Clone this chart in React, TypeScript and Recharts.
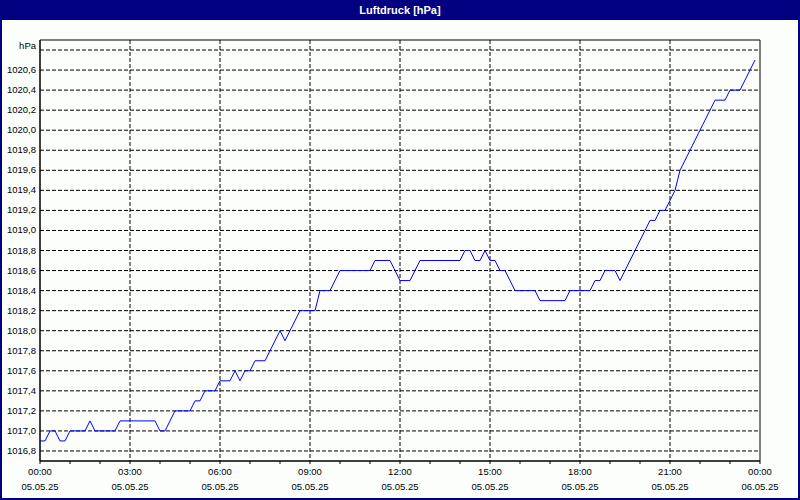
import React from 'react';
import { LineChart, Line, XAxis, YAxis, CartesianGrid, ReferenceArea } from 'recharts';

// minutes since 05.05.25 00:00
const minutes = [
  0, 10, 20, 30, 40, 50, 60, 90, 100, 110, 150, 160, 230, 240, 250, 270, 300, 310, 320, 330,
  350, 360, 380, 390, 400, 410, 420, 430, 450, 480, 490, 520, 550, 560, 580, 600, 660, 670,
  700, 720, 740, 760, 840, 850, 860, 870, 880, 890, 900, 910, 920, 930, 950, 990, 1000, 1050,
  1060, 1100, 1110, 1120, 1130, 1150, 1160, 1220, 1230, 1240, 1250, 1270, 1280, 1350, 1370,
  1380, 1400, 1430,
];
const pressure = [
  1016.9, 1016.9, 1017.0, 1017.0, 1016.9, 1016.9, 1017.0, 1017.0, 1017.1, 1017.0, 1017.0, 1017.1,
  1017.1, 1017.0, 1017.0, 1017.2, 1017.2, 1017.3, 1017.3, 1017.4, 1017.4, 1017.5, 1017.5, 1017.6,
  1017.5, 1017.6, 1017.6, 1017.7, 1017.7, 1018.0, 1017.9, 1018.2, 1018.2, 1018.4, 1018.4, 1018.6,
  1018.6, 1018.7, 1018.7, 1018.5, 1018.5, 1018.7, 1018.7, 1018.8, 1018.8, 1018.7, 1018.7, 1018.8,
  1018.7, 1018.7, 1018.6, 1018.6, 1018.4, 1018.4, 1018.3, 1018.3, 1018.4, 1018.4, 1018.5, 1018.5,
  1018.6, 1018.6, 1018.5, 1019.1, 1019.1, 1019.2, 1019.2, 1019.4, 1019.6, 1020.3, 1020.3, 1020.4,
  1020.4, 1020.7,
];

const xTicks = [
  0, 60, 120, 180, 240, 300, 360, 420, 480, 540, 600, 660, 720, 780, 840, 900, 960, 1020, 1080,
  1140, 1200, 1260, 1320, 1380, 1440,
];
const xGridValues = [180, 360, 540, 720, 900, 1080, 1260];
const xTimeLabels: Record<number, string> = {
  0: '00:00', 180: '03:00', 360: '06:00', 540: '09:00', 720: '12:00', 900: '15:00',
  1080: '18:00', 1260: '21:00', 1440: '00:00',
};
const xDateLabels: Record<number, string> = {
  0: '05.05.25', 180: '05.05.25', 360: '05.05.25', 540: '05.05.25', 720: '05.05.25',
  900: '05.05.25', 1080: '05.05.25', 1260: '05.05.25', 1440: '06.05.25',
};
const yTicks = [
  1016.8, 1017.0, 1017.2, 1017.4, 1017.6, 1017.8, 1018.0, 1018.2, 1018.4, 1018.6, 1018.8,
  1019.0, 1019.2, 1019.4, 1019.6, 1019.8, 1020.0, 1020.2, 1020.4, 1020.6, 1020.8,
];
const yUnit = 'hPa';
const title = 'Luftdruck [hPa]';

const data = minutes.map((m, i) => ({ t: m, p: pressure[i] }));

const FONT = '"Liberation Sans", Arial, sans-serif';

const XTick = (props: any) => {
  const { x, y, payload } = props;
  const v = payload.value;
  if (!(v in xTimeLabels)) return null;
  return (
    <text x={x} y={y} textAnchor="middle" fontFamily={FONT} fontSize={9.5} fill="#000">
      <tspan x={x} dy={9}>{xTimeLabels[v]}</tspan>
      <tspan x={x} dy={15}>{xDateLabels[v]}</tspan>
    </text>
  );
};

const YTick = (props: any) => {
  const { x, y, payload } = props;
  const v = payload.value;
  const isTop = Math.abs(v - 1020.8) < 1e-6;
  const label = isTop ? yUnit : v.toFixed(1).replace('.', ',');
  return (
    <text x={x} y={y} dy={isTop ? -1 : 3} textAnchor="end" fontFamily={FONT} fontSize={9.5} fill="#000">
      {label}
    </text>
  );
};

export default function App() {
  return (
    <div
      style={{
        position: 'fixed',
        left: 0,
        top: 0,
        width: 800,
        height: 500,
        boxSizing: 'border-box',
        border: '2px solid #000080',
        borderTop: 'none',
        background: '#fcfefc',
        overflow: 'hidden',
      }}
    >
      <div
        style={{
          position: 'absolute',
          left: -2,
          top: 0,
          width: 800,
          height: 20,
          background: '#000080',
          color: '#fff',
          fontFamily: FONT,
          fontWeight: 'bold',
          fontSize: 11,
          lineHeight: '20px',
          textAlign: 'center',
        }}
      >
        {title}
      </div>
      <div style={{ position: 'absolute', left: -2, top: 0 }}>
        <LineChart width={800} height={500} data={data} margin={{ top: 40, right: 40, bottom: 0, left: 0 }}>
          <CartesianGrid
            stroke="#000"
            strokeDasharray="4 2"
            horizontalValues={yTicks}
            verticalValues={xGridValues}
          />
          <XAxis
            dataKey="t"
            type="number"
            domain={[0, 1440]}
            ticks={xTicks}
            interval={0}
            height={39}
            tickSize={3}
            tickMargin={2}
            tickLine={{ stroke: '#000' }}
            axisLine={{ stroke: '#000' }}
            tick={<XTick />}
          />
          <YAxis
            type="number"
            domain={[1016.7, 1020.9]}
            ticks={yTicks}
            interval={0}
            width={40}
            tickSize={0}
            tickMargin={4}
            axisLine={{ stroke: '#000' }}
            tickLine={false}
            tick={<YTick />}
            allowDataOverflow
          />
          <ReferenceArea x1={0} x2={1440} y1={1016.7} y2={1020.9} fill="none" stroke="#000" strokeWidth={1} />
          <Line
            type="linear"
            dataKey="p"
            stroke="#0000ff"
            strokeWidth={1}
            dot={false}
            isAnimationActive={false}
          />
        </LineChart>
      </div>
    </div>
  );
}
